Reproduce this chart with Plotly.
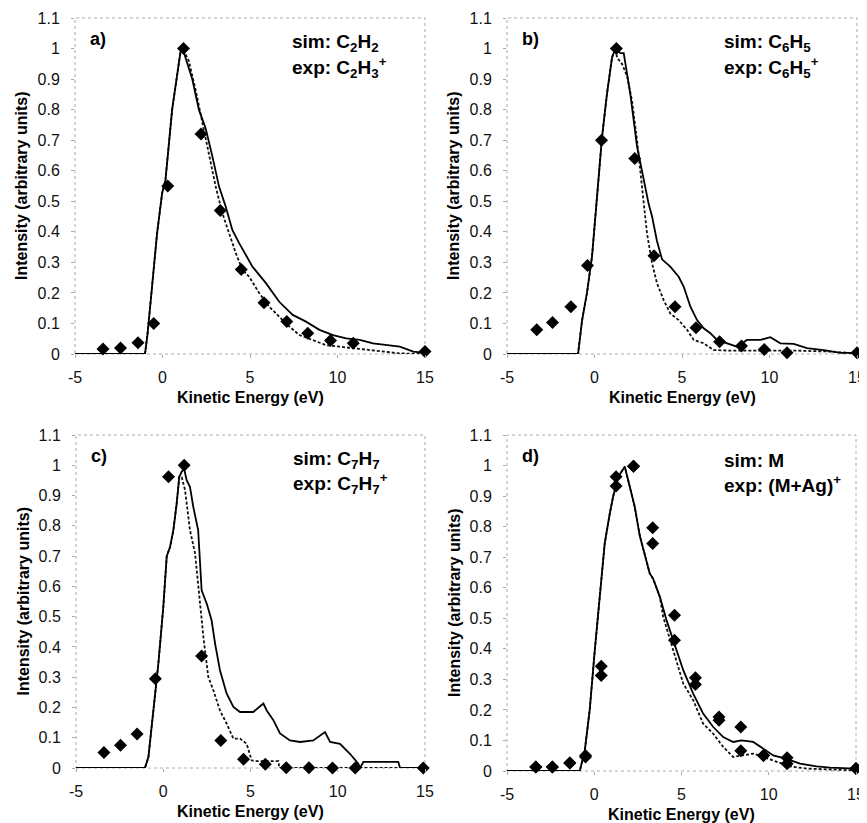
import plotly.graph_objects as go

# ---------------- data ----------------
# panel a
a_exp_x = [-3.4, -2.4, -1.4, -0.5, 0.3, 1.2, 2.2, 3.3, 4.5, 5.8, 7.1, 8.3, 9.6, 10.9, 15.0]
a_exp_y = [0.016, 0.02, 0.037, 0.10, 0.55, 1.0, 0.72, 0.47, 0.277, 0.168, 0.106, 0.068, 0.044, 0.035, 0.008]
a_sol_x = [-5, -1.0, -0.85, -0.6, -0.31, -0.02, 0.17, 0.55, 1.03, 1.15, 1.7, 2.08, 2.46, 2.85, 3.23, 3.61,
           3.99, 4.38, 5.14, 5.91, 6.67, 7.44, 8.2, 8.97, 9.74, 10.5, 11.27, 12.03, 12.8, 13.56, 14.33, 15]
a_sol_y = [0, 0, 0.068, 0.21, 0.395, 0.527, 0.57, 0.80, 0.99, 1.0, 0.90, 0.80, 0.74, 0.647, 0.548, 0.483,
           0.406, 0.363, 0.286, 0.232, 0.171, 0.128, 0.106, 0.079, 0.062, 0.051, 0.046, 0.035, 0.029, 0.024, 0.008, 0.004]
a_dsh_x = [-5, -1.0, -0.85, -0.6, -0.31, -0.02, 0.17, 0.55, 1.03, 1.15, 1.5, 1.89, 2.27, 2.66, 3.04, 3.42,
           3.8, 4.19, 4.57, 4.95, 5.53, 6.1, 6.67, 7.25, 7.82, 8.59, 9.35, 10.12, 10.9, 11.65, 12.6, 13.56, 15]
a_dsh_y = [0, 0, 0.068, 0.21, 0.395, 0.527, 0.57, 0.80, 0.99, 1.0, 0.96, 0.865, 0.756, 0.647, 0.548, 0.461,
           0.395, 0.33, 0.275, 0.253, 0.199, 0.155, 0.122, 0.09, 0.062, 0.046, 0.029, 0.024, 0.019, 0.013, 0.008, 0.002, 0]

# panel b
b_exp_x = [-3.3, -2.4, -1.35, -0.4, 0.4, 1.25, 2.3, 3.4, 4.6, 5.8, 7.15, 8.4, 9.7, 11.0, 15.0]
b_exp_y = [0.079, 0.103, 0.155, 0.29, 0.70, 1.0, 0.64, 0.322, 0.155, 0.086, 0.04, 0.026, 0.015, 0.004, 0.004]
b_sol_x = [-5, -0.94, -0.71, -0.43, -0.14, 0.14, 0.43, 0.71, 1.0, 1.19, 1.48, 1.67, 2.05, 2.43, 2.81, 3.1,
           3.29, 3.57, 3.86, 4.33, 4.81, 5.1, 5.48, 5.86, 6.24, 6.62, 7.0, 7.57, 8.14, 8.71, 9.48, 10.05,
           10.62, 11.38, 12.14, 13.1, 14.05, 15]
b_sol_y = [0, 0, 0.11, 0.2, 0.32, 0.5, 0.71, 0.85, 0.97, 1.0, 0.985, 0.985, 0.85, 0.68, 0.57, 0.49,
           0.45, 0.37, 0.31, 0.286, 0.253, 0.22, 0.155, 0.111, 0.084, 0.068, 0.046, 0.035, 0.024, 0.046, 0.046, 0.055,
           0.035, 0.033, 0.019, 0.013, 0.004, 0.004]
b_dsh_x = [-5, -0.94, -0.71, -0.43, -0.14, 0.14, 0.43, 0.71, 1.0, 1.19, 1.29, 1.57, 1.86, 2.14, 2.43, 2.71,
           3.0, 3.29, 3.57, 3.95, 4.33, 4.81, 5.29, 5.67, 6.24, 6.81, 7.76, 9.67, 11.57, 13.48, 15]
b_dsh_y = [0, 0, 0.11, 0.2, 0.32, 0.5, 0.71, 0.85, 0.97, 1.0, 0.97, 0.95, 0.91, 0.83, 0.70, 0.55,
           0.395, 0.297, 0.232, 0.177, 0.133, 0.111, 0.079, 0.046, 0.035, 0.013, 0.011, 0.011, 0.011, 0.008, 0.002]

# panel c
c_exp_x = [-3.4, -2.45, -1.5, -0.45, 0.3, 1.2, 2.2, 3.3, 4.6, 5.85, 7.05, 8.35, 9.7, 11.0, 14.9]
c_exp_y = [0.051, 0.075, 0.112, 0.295, 0.962, 1.0, 0.37, 0.091, 0.029, 0.012, 0.001, 0.001, 0, 0, 0]
c_sol_x = [-5, -1.05, -0.85, -0.57, -0.28, 0.0, 0.2, 0.39, 0.58, 0.77, 0.92, 1.06, 1.19, 1.34, 1.53, 1.72,
           2.0, 2.2, 2.49, 2.77, 2.97, 3.25, 3.63, 4.02, 4.4, 5.16, 5.74, 5.93, 6.31, 6.69, 7.26, 7.84,
           8.6, 9.27, 9.56, 10.13, 10.7, 11.18, 11.27, 11.47, 13.47, 13.57, 15]
c_sol_y = [0, 0, 0.036, 0.19, 0.345, 0.53, 0.70, 0.73, 0.786, 0.874, 0.962, 0.979, 0.99, 0.951, 0.929, 0.863,
           0.786, 0.587, 0.543, 0.488, 0.411, 0.323, 0.246, 0.202, 0.185, 0.185, 0.213, 0.19, 0.158, 0.114, 0.091, 0.086,
           0.091, 0.119, 0.086, 0.08, 0.047, 0.014, 0, 0.02, 0.02, 0, 0]
c_dsh_x = [-5, -1.05, -0.85, -0.57, -0.28, 0.0, 0.2, 0.39, 0.58, 0.77, 0.92, 1.06, 1.25, 1.53, 1.82, 2.11,
           2.3, 2.58, 2.87, 3.25, 3.63, 4.02, 4.4, 4.78, 5.07, 5.35, 6.6, 6.65, 15]
c_dsh_y = [0, 0, 0.036, 0.19, 0.345, 0.53, 0.70, 0.73, 0.786, 0.874, 0.962, 0.96, 0.918, 0.786, 0.71, 0.543,
           0.433, 0.301, 0.257, 0.19, 0.147, 0.097, 0.097, 0.08, 0.025, 0.023, 0.023, 0, 0]

# panel d
d_exp_x = [-3.35, -2.4, -1.4, -0.5, 0.4, 1.25, 2.25, 3.35, 4.6, 5.8, 7.15, 8.4, 9.7, 11.05, 15.0]
d_exp1_y = [0.013, 0.013, 0.026, 0.051, 0.343, 0.963, 0.998, 0.796, 0.51, 0.305, 0.177, 0.144, 0.051, 0.043, 0.008]
d_exp2_y = [0.013, 0.013, 0.026, 0.046, 0.313, 0.933, 0.998, 0.745, 0.428, 0.283, 0.166, 0.066, 0.051, 0.024, 0.008]
d_sol_x = [-5, -0.83, -0.54, -0.26, 0.03, 0.32, 0.6, 0.89, 1.08, 1.37, 1.75, 2.04, 2.32, 2.61, 2.9, 3.18,
           3.37, 3.76, 4.14, 4.52, 5.1, 5.67, 6.24, 6.82, 7.39, 7.96, 8.44, 9.11, 9.68, 10.26, 11.02, 11.79,
           12.74, 13.51, 15]
d_sol_y = [0, 0, 0.068, 0.2, 0.395, 0.57, 0.745, 0.843, 0.898, 0.963, 0.996, 0.93, 0.865, 0.77, 0.712, 0.647,
           0.63, 0.57, 0.494, 0.428, 0.33, 0.253, 0.188, 0.144, 0.111, 0.095, 0.1, 0.095, 0.073, 0.051, 0.04, 0.024,
           0.015, 0.011, 0.008]
d_dsh_x = [-5, -0.83, -0.54, -0.26, 0.03, 0.32, 0.6, 0.89, 1.08, 1.37, 1.75, 2.04, 2.32, 2.61, 2.9, 3.18,
           3.37, 3.76, 3.95, 4.52, 5.1, 5.67, 6.24, 6.82, 7.39, 7.96, 8.53, 9.11, 9.68, 10.45, 11.21, 12.17,
           13.51, 15]
d_dsh_y = [0, 0, 0.068, 0.2, 0.395, 0.57, 0.745, 0.843, 0.898, 0.963, 0.996, 0.93, 0.865, 0.77, 0.712, 0.647,
           0.63, 0.57, 0.505, 0.395, 0.286, 0.232, 0.155, 0.122, 0.079, 0.046, 0.051, 0.057, 0.046, 0.03, 0.015, 0.008,
           0.004, 0.002]

x_ticks = [-5, 0, 5, 10, 15]
y_ticks = [0, 0.1, 0.2, 0.3, 0.4, 0.5, 0.6, 0.7, 0.8, 0.9, 1, 1.1]
y_tick_text = ["0", "0.1", "0.2", "0.3", "0.4", "0.5", "0.6", "0.7", "0.8", "0.9", "1", "1.1"]

panel_letters = ["a)", "b)", "c)", "d)"]
sim_labels = ["sim: C<sub>2</sub>H<sub>2</sub>", "sim: C<sub>6</sub>H<sub>5</sub>",
              "sim: C<sub>7</sub>H<sub>7</sub>", "sim: M"]
exp_labels = ["exp: C<sub>2</sub>H<sub>3</sub><sup>+</sup>", "exp: C<sub>6</sub>H<sub>5</sub><sup>+</sup>",
              "exp: C<sub>7</sub>H<sub>7</sub><sup>+</sup>", "exp: (M+Ag)<sup>+</sup>"]
x_title = "Kinetic Energy (eV)"
y_title = "Intensity (arbitrary units)"

# ---------------- layout geometry (pixels of the 867x823 window) ----------------
OFF = 8                      # default page body margin
W, H = 867 - OFF, 823 - OFF
FONT = "Arial, Liberation Sans, Helvetica, sans-serif"

def fx(p):
    return (p - OFF) / W

def fy(p):
    return 1 - (p - OFF) / H

# (left, right, top, bottom) of each plot area in window pixels
boxes = [(75, 425, 18, 354), (507, 857, 18, 354), (76, 425, 435, 768), (507, 856, 435, 771)]

fig = go.Figure()

panels = [
    (a_exp_x, [a_exp_y], a_sol_x, a_sol_y, a_dsh_x, a_dsh_y),
    (b_exp_x, [b_exp_y], b_sol_x, b_sol_y, b_dsh_x, b_dsh_y),
    (c_exp_x, [c_exp_y], c_sol_x, c_sol_y, c_dsh_x, c_dsh_y),
    (d_exp_x, [d_exp1_y, d_exp2_y], d_sol_x, d_sol_y, d_dsh_x, d_dsh_y),
]

annotations = []
shapes = []
for i, (ex, eys, sx, sy, dx, dy) in enumerate(panels):
    n = "" if i == 0 else str(i + 1)
    xa, ya = "x" + n, "y" + n
    fig.add_trace(go.Scatter(x=dx, y=dy, mode="lines", xaxis=xa, yaxis=ya,
                             line=dict(color="#111", width=1.8, dash="3px,2px"), showlegend=False))
    fig.add_trace(go.Scatter(x=sx, y=sy, mode="lines", xaxis=xa, yaxis=ya,
                             line=dict(color="#000", width=1.8), showlegend=False))
    for ey in eys:
        fig.add_trace(go.Scatter(x=ex, y=ey, mode="markers", xaxis=xa, yaxis=ya, cliponaxis=False,
                                 marker=dict(symbol="diamond", size=10, color="#000"), showlegend=False))
    l, r, t, b = boxes[i]
    axis_common = dict(showgrid=False, zeroline=False, showline=False, ticks="outside", ticklen=3,
                       automargin=False, tickcolor="#aaa", tickwidth=1,
                       tickfont=dict(family=FONT, size=16, color="#111"))
    fig.layout["xaxis" + n] = dict(domain=[fx(l), fx(r)], range=[-5, 15], anchor=ya,
                                   tickvals=x_ticks, ticktext=[str(v) for v in x_ticks],
                                   ticklabelstandoff=6, **axis_common)
    fig.layout["yaxis" + n] = dict(domain=[fy(b), fy(t)], range=[0, 1.1], anchor=xa,
                                   tickvals=y_ticks, ticktext=y_tick_text,
                                   ticklabelstandoff=8, **axis_common)
    shapes.append(dict(type="rect", xref=xa + " domain", yref=ya + " domain", x0=0, x1=1, y0=0, y1=1,
                       line=dict(color="#aaa", width=1, dash="dot"), layer="below"))
    # texts
    annotations.append(dict(text="<b>" + panel_letters[i] + "</b>", xref="paper", yref="paper",
                            x=fx(l + 13), y=fy(t + 21), xanchor="left", yanchor="middle", showarrow=False,
                            font=dict(family=FONT, size=18, color="#000")))
    annotations.append(dict(text="<b>" + sim_labels[i] + "</b>", xref="paper", yref="paper",
                            x=fx(l + 215), y=fy(t + 25), xanchor="left", yanchor="middle", showarrow=False,
                            font=dict(family=FONT, size=19, color="#000")))
    annotations.append(dict(text="<b>" + exp_labels[i] + "</b>", xref="paper", yref="paper",
                            x=fx(l + 215), y=fy(t + 49), xanchor="left", yanchor="middle", showarrow=False,
                            font=dict(family=FONT, size=19, color="#000")))
    annotations.append(dict(text="<b>" + x_title + "</b>", xref="paper", yref="paper",
                            x=fx((l + r) / 2), y=fy(b + 43), xanchor="center", yanchor="middle", showarrow=False,
                            font=dict(family=FONT, size=16, color="#000")))
    annotations.append(dict(text="<b>" + y_title + "</b>", xref="paper", yref="paper", textangle=-90,
                            x=fx(l - 53), y=fy((t + b) / 2), xanchor="center", yanchor="middle", showarrow=False,
                            font=dict(family=FONT, size=16, color="#000")))

fig.update_layout(width=W, height=H, margin=dict(l=0, r=0, t=0, b=0),
                  paper_bgcolor="white", plot_bgcolor="white",
                  annotations=annotations, shapes=shapes, showlegend=False)

fig.write_html("out.html")
